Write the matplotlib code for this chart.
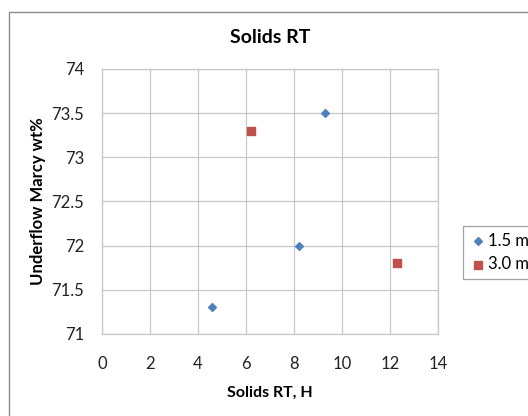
import matplotlib
matplotlib.use("Agg")
import matplotlib.pyplot as plt
from matplotlib.patches import Rectangle

plt.rcParams['font.family'] = ['Lato', 'DejaVu Sans']

# series
x_15 = [4.6, 8.2, 9.3]
y_15 = [71.3, 72.0, 73.5]
x_30 = [6.2, 12.3]
y_30 = [73.3, 71.8]
labels = ["1.5 m", "3.0 m"]
xticks = [0, 2, 4, 6, 8, 10, 12, 14]
yticks = [71, 71.5, 72, 72.5, 73, 73.5, 74]

fig = plt.figure(figsize=(5.28, 4.16), dpi=100)
fig.patch.set_facecolor('white')

# outer chart frame (runs off the right/bottom edge)
fig.patches.append(Rectangle((9 / 528, -0.1), 1.2, 1.1 - 12 / 416,
                             transform=fig.transFigure, fill=False,
                             edgecolor='#8c8c8c', linewidth=1.0))

ax = fig.add_axes([102 / 528, 1 - 334 / 416, 336 / 528, 265 / 416])

ax.scatter(x_15, y_15, marker='D', s=16, color='#4F81BD', label=labels[0], zorder=3)
ax.scatter(x_30, y_30, marker='s', s=40, color='#C0504D', label=labels[1], zorder=3)

ax.set_xlim(0, 14)
ax.set_ylim(71, 74)
ax.set_xticks(xticks)
ax.set_yticks(yticks)
ax.set_yticklabels([f"{v:g}" for v in yticks])
ax.grid(True, color='#c8c8c8', linewidth=0.9)
ax.set_axisbelow(True)
for s in ax.spines.values():
    s.set_color('#c8c8c8')
    s.set_linewidth(0.9)
ax.tick_params(length=0, labelsize=12, colors='#222222')
ax.tick_params(axis='x', pad=16)
ax.tick_params(axis='y', pad=13)

ax.set_title("Solids RT", fontsize=14, fontweight='bold', pad=19)
ax.set_xlabel("Solids RT, H", fontsize=11.5, fontweight='bold', labelpad=10)
ax.set_ylabel("Underflow Marcy wt%", fontsize=12, fontweight='bold', labelpad=4)

leg = ax.legend(loc='upper left', bbox_to_anchor=(463 / 528, 1 - 226 / 416),
                bbox_transform=fig.transFigure, frameon=True, fancybox=False,
                fontsize=12, handletextpad=0.1, handlelength=1.0,
                borderaxespad=0, borderpad=0.4, labelspacing=0.45)
leg.get_frame().set_edgecolor('#8c8c8c')
leg.get_frame().set_linewidth(0.9)

fig.savefig("out.png", dpi=100)
